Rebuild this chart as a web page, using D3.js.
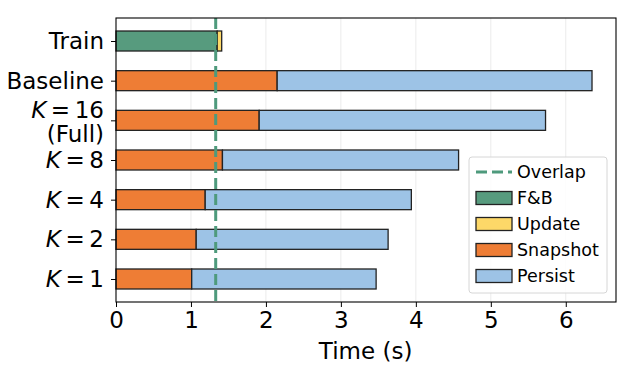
<!DOCTYPE html>
<html><head><meta charset="utf-8">
<script src="https://cdn.jsdelivr.net/npm/d3@7"></script>
<style>body{margin:0;background:#fff}svg{display:block;font-family:"DejaVu Sans",sans-serif}</style>
</head><body><svg id="c" width="626" height="380"></svg>
<script>
const categories = ["Train","Baseline","K16","K8","K4","K2","K1"];
const fbValues = [1.35, 0, 0, 0, 0, 0, 0];
const updateValues = [0.06, 0, 0, 0, 0, 0, 0];
const snapshotValues = [0, 2.15, 1.91, 1.42, 1.19, 1.07, 1.01];
const persistValues = [0, 4.20, 3.82, 3.15, 2.75, 2.56, 2.46];
const overlapValue = 1.33;
const xTicks = [0,1,2,3,4,5,6];
const seriesNames = ["F&B","Update","Snapshot","Persist"];
const colors = ["#579b7e","#fdd868","#ee7d35","#9dc3e6"];

const svg = d3.select("#c");
const L=116,R=616,T=18,B=302;
const x = d3.scaleLinear().domain([0,6.67]).range([L,R]);
const y = d3.scaleLinear().domain([-0.58,6.58]).range([T,B]);
const bh = 20;
const FS = 23;

// grid
svg.append("g").selectAll("line").data(xTicks.slice(1)).join("line")
  .attr("x1",d=>x(d)).attr("x2",d=>x(d)).attr("y1",T).attr("y2",B)
  .attr("stroke","#ebebeb").attr("stroke-width",1);

const series = [fbValues,updateValues,snapshotValues,persistValues];
const rows = categories.map((c,i)=>{const o={cat:c,idx:i}; seriesNames.forEach((s,j)=>o[s]=series[j][i]); return o;});
const stack = d3.stack().keys(seriesNames)(rows);
stack.forEach((layer,j)=>{
  svg.append("g").selectAll("rect").data(layer.filter(d=>d[1]-d[0]>0)).join("rect")
    .attr("x",d=>x(d[0])).attr("width",d=>x(d[1])-x(d[0]))
    .attr("y",d=>y(d.data.idx)-bh/2).attr("height",bh)
    .attr("fill",colors[j]).attr("stroke","#222").attr("stroke-width",1.3);
});

// overlap line
svg.append("line").attr("x1",x(overlapValue)).attr("x2",x(overlapValue)).attr("y1",T).attr("y2",B)
  .attr("stroke","#4e9a7c").attr("stroke-width",3).attr("stroke-dasharray","11,5");

// frame
svg.append("rect").attr("x",L).attr("y",T).attr("width",R-L).attr("height",B-T)
  .attr("fill","none").attr("stroke","#000").attr("stroke-width",1.1);

// x axis
const xa = svg.append("g").attr("transform",`translate(0,${B})`)
  .call(d3.axisBottom(x).tickValues(xTicks).tickSize(5).tickPadding(5).tickFormat(d3.format("d")));
xa.select(".domain").remove();
xa.selectAll("text").attr("font-size",FS).attr("fill","#000").attr("font-family","DejaVu Sans");
xa.selectAll("line").attr("stroke","#000");
svg.append("text").attr("x",x(3.33)).attr("y",359).attr("text-anchor","middle")
  .attr("font-size",FS).text("Time (s)");

// y axis
const ya = svg.append("g").attr("transform",`translate(${L},0)`)
  .call(d3.axisLeft(y).tickValues(d3.range(categories.length)).tickSize(5).tickFormat(""));
ya.select(".domain").remove();
ya.selectAll("line").attr("stroke","#000");
const labelX = 104;
categories.forEach((c,i)=>{
  const yy = y(i);
  if (c==="Train"||c==="Baseline"){
    svg.append("text").attr("x",labelX).attr("y",yy+8).attr("text-anchor","end").attr("font-size",FS).text(c);
  } else {
    const n = c.slice(1);
    const off = n==="16" ? -10 : 0;
    const t = svg.append("text").attr("x",labelX).attr("y",yy+8+off).attr("text-anchor","end").attr("font-size",FS);
    t.append("tspan").attr("font-style","italic").text("K");
    t.append("tspan").text("\u2009=\u2009"+n);
    if (n==="16") svg.append("text").attr("x",labelX).attr("y",yy+8+14).attr("text-anchor","end").attr("font-size",FS).text("(Full)");
  }
});

// legend
const lg = svg.append("g");
lg.append("rect").attr("x",469).attr("y",157).attr("width",138).attr("height",136).attr("rx",3)
  .attr("fill","#fff").attr("fill-opacity",0.85).attr("stroke","#d6d6d6").attr("stroke-width",1);
const items = [{name:"Overlap",line:true}].concat(seriesNames.map((s,j)=>({name:s,color:colors[j]})));
items.forEach((it,k)=>{
  const cy = 172 + k*26;
  if (it.line){
    lg.append("line").attr("x1",476).attr("x2",512).attr("y1",cy).attr("y2",cy)
      .attr("stroke","#4e9a7c").attr("stroke-width",3).attr("stroke-dasharray","11,5");
  } else {
    lg.append("rect").attr("x",476).attr("y",cy-6.5).attr("width",36).attr("height",13)
      .attr("fill",it.color).attr("stroke","#222").attr("stroke-width",1.3);
  }
  lg.append("text").attr("x",517).attr("y",cy+6).attr("font-size",17.5).text(it.name);
});
</script></body></html>
